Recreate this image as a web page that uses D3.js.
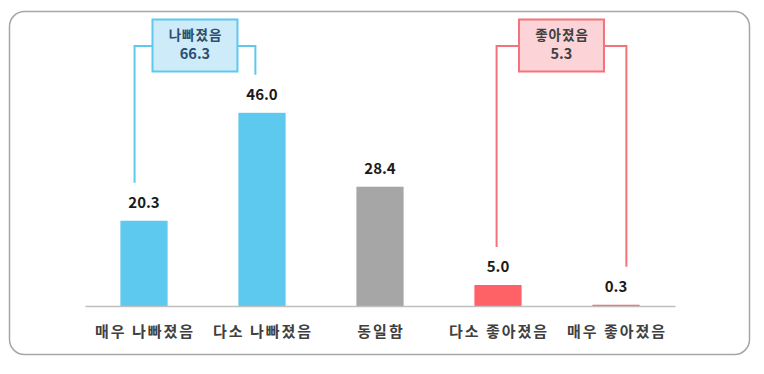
<!DOCTYPE html>
<meta charset="utf-8">
<style>
body {margin: 0; background: #fff;}
svg text {font-family: "Noto Sans CJK KR", "Noto Sans", sans-serif; font-weight: bold;}
.axis .domain {stroke: #bfbfbf; stroke-width: 1.5;}
.axis text {font-size: 15px; fill: #404040; letter-spacing: 2px;}
</style>
<html>
<body>
<script src="https://d3js.org/d3.v7.min.js"></script>
<script>
var width = 764,
    height = 374;

// data
var categories = ["매우 나빠졌음", "다소 나빠졌음", "동일함", "다소 좋아졌음", "매우 좋아졌음"];
var values = [20.3, 46.0, 28.4, 5.0, 0.3];
var barColors = ["#5ec9ef", "#5ec9ef", "#a6a6a6", "#ff6266", "#ff6266"];

var groupNames = ["나빠졌음", "좋아졌음"];
var groupTotals = [66.3, 5.3];
var groupMembers = [[0, 1], [3, 4]];

var svg = d3.select("body").append("svg")
    .attr("width", width)
    .attr("height", height);

// outer frame
svg.append("rect")
    .attr("x", 9.5).attr("y", 11.5)
    .attr("width", 740).attr("height", 343)
    .attr("rx", 15)
    .attr("fill", "none")
    .attr("stroke", "#a6a6a6")
    .attr("stroke-width", 1.5);

var x = d3.scaleBand()
    .domain(categories)
    .range([85, 675])
    .paddingInner(0.6)
    .paddingOuter(0.3);

var y = d3.scaleLinear()
    .domain([0, 50])
    .range([306, 96]);

svg.selectAll(".bar")
    .data(values)
    .enter().append("rect")
    .attr("class", "bar")
    .attr("x", function(d, i) { return x(categories[i]); })
    .attr("y", function(d) { return y(d); })
    .attr("width", x.bandwidth())
    .attr("height", function(d) { return y(0) - y(d); })
    .attr("fill", function(d, i) { return barColors[i]; });

svg.selectAll(".val")
    .data(values)
    .enter().append("text")
    .attr("class", "val")
    .attr("x", function(d, i) { return x(categories[i]) + x.bandwidth() / 2; })
    .attr("y", function(d) { return y(d) - 13; })
    .attr("text-anchor", "middle")
    .style("font-size", "15px")
    .style("fill", "#1a1a1a")
    .text(function(d) { return d.toFixed(1); });

var axis = svg.append("g")
    .attr("class", "axis")
    .attr("transform", "translate(0," + y(0) + ")")
    .call(d3.axisBottom(x).tickSize(0).tickPadding(20).tickSizeOuter(0));
axis.selectAll("text").attr("dx", "1px");

// brackets
var bracketStyle = [
    {line: "#5ec9ef", fill: "#cdebf8", text: "#2d4d72", off: [0.3, 0.36]},
    {line: "#f4737a", fill: "#fcd3d6", text: "#404040", off: [0.47, 0.72]}
];
var boxW = 85, boxH = 52, boxTop = 19.5, armY = 46;

groupNames.forEach(function(name, g) {
    var s = bracketStyle[g];
    var a = groupMembers[g][0], b = groupMembers[g][1];
    var xa = x(categories[a]) + x.bandwidth() * s.off[0];
    var xb = x(categories[b]) + x.bandwidth() * s.off[1];
    var ya = y(values[a]) - 38;
    var yb = y(values[b]) - 38;
    var cx = (xa + xb) / 2;

    svg.append("path")
        .attr("d", "M" + xa + "," + ya + "V" + armY + "H" + xb + "V" + yb)
        .attr("fill", "none")
        .attr("stroke", s.line)
        .attr("stroke-width", 2);

    svg.append("rect")
        .attr("x", cx - boxW / 2).attr("y", boxTop)
        .attr("width", boxW).attr("height", boxH)
        .attr("fill", s.fill)
        .attr("stroke", s.line)
        .attr("stroke-width", 2);

    svg.append("text")
        .attr("x", cx + 0.5).attr("y", 40)
        .attr("text-anchor", "middle")
        .style("font-size", "13.5px")
        .style("letter-spacing", "1px")
        .style("fill", s.text)
        .text(name);

    svg.append("text")
        .attr("x", cx).attr("y", 59)
        .attr("text-anchor", "middle")
        .style("font-size", "14.5px")
        .style("fill", s.text)
        .text(groupTotals[g].toFixed(1));
});
</script>
</body>
</html>
